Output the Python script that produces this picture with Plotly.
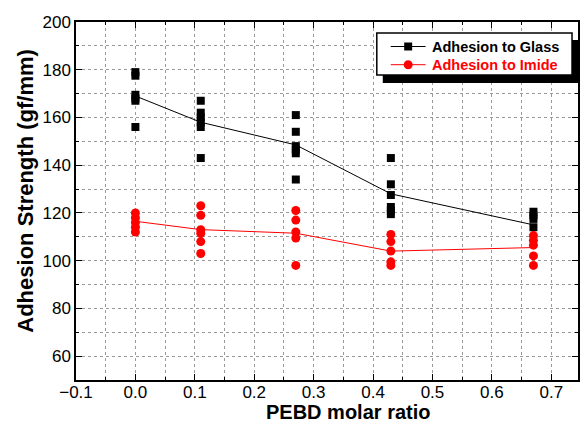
import plotly.graph_objects as go

# PEBD molar ratio groups
ratios = [0.0, 0.11, 0.27, 0.43, 0.67]

# individual measurements (gf/mm)
glass_points = [
    [179, 177.5, 169.5, 168, 167, 156],
    [167, 162, 160, 158, 156, 143],
    [161, 154, 148, 146.5, 145, 134],
    [143, 132, 127.5, 122.5, 121, 119.5],
    [120.5, 119, 117.5, 114],
]
imide_points = [
    [120, 118, 116, 114, 112],
    [123, 119, 113, 111.5, 108, 103],
    [121, 117, 112, 109.5, 98],
    [111, 108, 104, 99.5, 98],
    [110.5, 108.5, 106.5, 102, 98],
]
# average lines
glass_mean = [169, 158, 148.5, 128, 115]
imide_mean = [116.5, 113, 111.5, 104, 105.5]

series_names = ["Adhesion to Glass", "Adhesion to Imide"]
x_title = "PEBD molar ratio"
y_title = "Adhesion Strength (gf/mm)"

FONT = "Arial, Liberation Sans, sans-serif"
W, H = 587, 430
ML, MR, MT, MB = 76, 7, 22, 50
PW, PH = W - ML - MR, H - MT - MB


def px(xp):
    return (xp - ML) / PW


def py(yp):
    return (H - MB - yp) / PH


def flatten(groups):
    xs, ys = [], []
    for xv, g in zip(ratios, groups):
        for v in g:
            xs.append(xv)
            ys.append(v)
    return xs, ys


fig = go.Figure()

gx, gy = flatten(glass_points)
ix, iy = flatten(imide_points)

fig.add_trace(go.Scatter(x=ratios, y=glass_mean, mode="lines",
                         line=dict(color="black", width=1), showlegend=False))
fig.add_trace(go.Scatter(x=ratios, y=imide_mean, mode="lines",
                         line=dict(color="red", width=1), showlegend=False))
fig.add_trace(go.Scatter(x=gx, y=gy, mode="markers", name=series_names[0],
                         marker=dict(symbol="square", size=8, color="black"),
                         showlegend=False))
fig.add_trace(go.Scatter(x=ix, y=iy, mode="markers", name=series_names[1],
                         marker=dict(symbol="circle", size=9, color="red"),
                         showlegend=False))

grid = dict(showgrid=True, gridcolor="#9a9a9a", griddash="dot", gridwidth=1)

# hand-drawn legend box (with drop shadow) like the original
shapes = [
    dict(type="rect", xref="paper", yref="paper", layer="above",
         x0=px(384), x1=px(582), y0=py(83), y1=py(40),
         fillcolor="black", line=dict(width=0)),
    dict(type="rect", xref="paper", yref="paper", layer="above",
         x0=px(378), x1=px(574), y0=py(75), y1=py(33),
         fillcolor="white", line=dict(color="black", width=1.5)),
]
annotations = []
leg_rows = [(46.5, "black", "square"), (64.7, "red", "circle")]
for (yy, col, sym), name in zip(leg_rows, series_names):
    shapes.append(dict(type="line", xref="paper", yref="paper", layer="above",
                       x0=px(392), x1=px(427), y0=py(yy), y1=py(yy),
                       line=dict(color=col, width=1)))
    r = 4 if sym == "square" else 4.5
    shapes.append(dict(type="rect" if sym == "square" else "circle",
                       xref="paper", yref="paper", layer="above",
                       x0=px(409.5 - r), x1=px(409.5 + r),
                       y0=py(yy + r), y1=py(yy - r),
                       fillcolor=col, line=dict(width=0)))
    annotations.append(dict(xref="paper", yref="paper", x=px(431), y=py(yy),
                            xanchor="left", yanchor="middle", showarrow=False,
                            text="<b>%s</b>" % name,
                            font=dict(size=14.5, family=FONT, color=col)))

annotations.append(dict(xref="paper", yref="paper", x=px(349), y=py(412),
                        xanchor="center", yanchor="middle", showarrow=False,
                        text="<b>%s</b>" % x_title,
                        font=dict(size=20, family=FONT, color="black")))
annotations.append(dict(xref="paper", yref="paper", x=px(25), y=py(190.5),
                        xanchor="center", yanchor="middle", showarrow=False,
                        textangle=-90, text="<b>%s</b>" % y_title,
                        font=dict(size=22, family=FONT, color="black")))

fig.update_layout(
    width=W, height=H,
    margin=dict(l=ML, r=MR, t=MT, b=MB),
    paper_bgcolor="white", plot_bgcolor="white",
    font=dict(family=FONT, color="black"),
    showlegend=False,
    xaxis=dict(range=[-0.1, 0.745], dtick=0.1, tick0=0, tickformat=".1f",
               ticks="inside", ticklen=6, tickcolor="black", tickwidth=1,
               showline=True, linecolor="black", linewidth=1.5, mirror="allticks",
               zeroline=False, tickfont=dict(size=17, family=FONT),
               ticklabelstandoff=-4,
               minor=dict(dtick=0.05, ticks="inside", ticklen=3, tickcolor="black", **grid),
               **grid),
    yaxis=dict(range=[50, 200], dtick=20, tick0=0,
               ticks="inside", ticklen=6, tickcolor="black", tickwidth=1,
               showline=True, linecolor="black", linewidth=1.5, mirror="allticks",
               zeroline=False, tickfont=dict(size=17, family=FONT),
               minor=dict(dtick=10, ticks="inside", ticklen=3, tickcolor="black", **grid),
               **grid),
    shapes=shapes,
    annotations=annotations,
)

fig.write_html("out.html")
